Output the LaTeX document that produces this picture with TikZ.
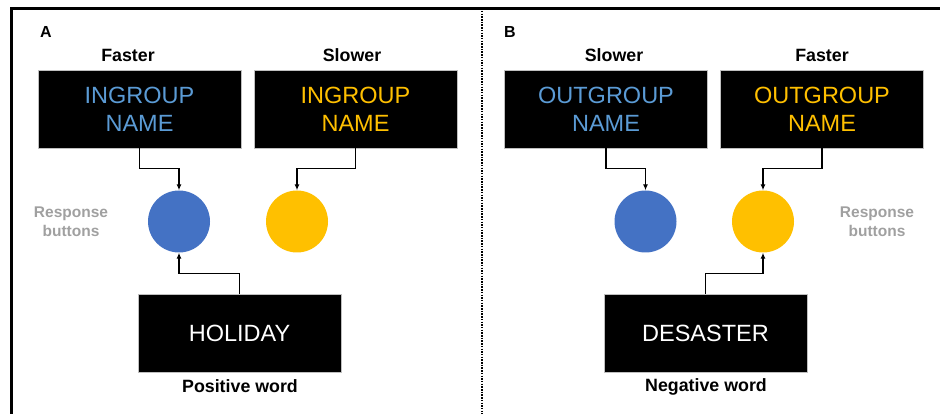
\documentclass[tikz,border=0pt]{standalone}
\usepackage{fontspec}
\setmainfont{Liberation Sans}
\usetikzlibrary{arrows.meta}
\definecolor{txtblue}{HTML}{5B9BD5}
\definecolor{circblue}{HTML}{4472C4}
\definecolor{gold}{HTML}{FFC000}
\definecolor{lblgray}{HTML}{A0A0A0}
\begin{document}
\begin{tikzpicture}[x=1pt,y=-1pt,
  blackbox/.style={fill=black, draw=gray!50, line width=0.6pt, minimum width=203pt, minimum height=78pt, inner sep=0pt, align=center, font=\fontsize{23.5}{28}\selectfont},
  btn/.style={circle, minimum size=62pt, inner sep=0pt},
  head/.style={font=\bfseries\fontsize{17.8}{20}\selectfont, inner sep=0pt},
  panel/.style={font=\bfseries\fontsize{16}{18}\selectfont, inner sep=0pt},
  resp/.style={font=\bfseries\fontsize{15.5}{19}\selectfont, text=lblgray, align=center, inner sep=0pt},
  conn/.style={line width=1.2pt, -{Latex[length=6pt,width=5pt]}}
]
\useasboundingbox (0,0) rectangle (940,414);
% frame
\draw[line width=3pt] (11,414) -- (11,9) -- (940,9);
\draw[line width=2pt, dash pattern=on 1.5pt off 1.2pt] (482,11) -- (482,414);

% Panel A
\node[panel] (lA) at (46,32) {A};
\node[head] (fA) at (128,55) {Faster};
\node[head] (sA) at (352,55) {Slower};
\node[blackbox, text=txtblue] (b1) at (139.5,109) {INGROUP\\NAME};
\node[blackbox, text=gold] (b2) at (355.5,109) {INGROUP\\NAME};
\node[btn, fill=circblue] (c1) at (179,221.5) {};
\node[btn, fill=gold] (c2) at (297,221.5) {};
\node[resp] (rA) at (71,222) {Response\\buttons};
\node[blackbox, text=white] (w1) at (239.5,333) {HOLIDAY};
\node[head] (pA) at (240,386) {Positive word};
\draw[conn] (b1.south) -- ++(0,20) -| (c1.north);
\draw[conn] (b2.south) -- ++(0,20) -| (c2.north);
\draw[conn] (w1.north) -- ++(0,-20) -| (c1.south);

% Panel B
\node[panel] (lB) at (510,32) {B};
\node[head] (sB) at (614,55) {Slower};
\node[head] (fB) at (822,55) {Faster};
\node[blackbox, text=txtblue] (b3) at (606,109) {OUTGROUP\\NAME};
\node[blackbox, text=gold] (b4) at (822,109) {OUTGROUP\\NAME};
\node[btn, fill=circblue] (c3) at (645.5,221.5) {};
\node[btn, fill=gold] (c4) at (763,221.5) {};
\node[resp] (rB) at (877,222) {Response\\buttons};
\node[blackbox, text=white] (w2) at (705.5,333) {DESASTER};
\node[head] (nB) at (706,387) {Negative word};
\draw[conn] (b3.south) -- ++(0,20) -| (c3.north);
\draw[conn] (b4.south) -- ++(0,20) -| (c4.north);
\draw[conn] (w2.north) -- ++(0,-20) -| (c4.south);
\end{tikzpicture}
\end{document}
